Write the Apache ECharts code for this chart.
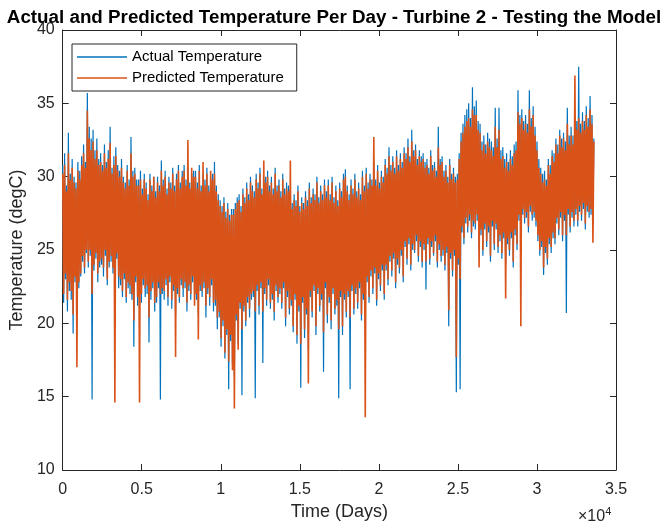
<!DOCTYPE html>
<html>
<head>
<meta charset="utf-8">
<script src="https://cdn.jsdelivr.net/npm/echarts@6/dist/echarts.min.js"></script>
<style>
  html, body { margin: 0; padding: 0; background: #fff; }
  #chart { width: 668px; height: 530px; }
</style>
</head>
<body>
<div id="chart"></div>
<script>
// One reading every 60 days, starting at day 0
const firstDay = 0;
const dayStep = 60;

const actualTemp = [
  30.8, 21.4, 31.6, 23.0, 29.4, 20.8, 33.0, 22.2, 30.2, 21.6, 31.2, 19.3, 30.0, 22.8, 29.6, 21.0, 31.0, 22.4, 30.4, 23.2,
  31.4, 24.2, 32.2, 23.4, 31.0, 24.8, 35.7, 23.8, 33.4, 24.6, 32.6, 14.8, 33.2, 23.6, 31.8, 24.4, 32.6, 22.8, 31.2, 23.8,
  31.6, 24.0, 30.8, 23.2, 32.2, 24.6, 31.0, 22.6, 31.8, 23.8, 33.4, 24.2, 30.6, 23.4, 31.4, 22.8, 32.0, 24.4, 30.8, 22.4,
  30.4, 22.6, 31.2, 21.8, 30.0, 23.0, 29.6, 21.4, 30.8, 22.4, 29.8, 22.0, 32.7, 21.6, 30.4, 18.4, 30.6, 22.8, 29.8, 21.2,
  29.8, 22.2, 30.4, 21.4, 29.2, 22.6, 30.2, 21.8, 29.6, 22.0, 28.8, 18.7, 30.2, 21.6, 29.4, 22.4, 30.0, 20.8, 29.0, 21.4,
  30.0, 22.4, 29.4, 14.8, 31.1, 22.0, 29.8, 21.6, 30.4, 22.6, 29.2, 21.2, 30.0, 22.8, 29.6, 21.0, 30.6, 22.2, 29.4, 20.6,
  30.2, 22.0, 30.8, 21.4, 29.6, 22.6, 30.4, 21.8, 30.8, 22.4, 29.8, 20.8, 30.6, 22.2, 29.6, 21.6, 30.2, 22.8, 30.4, 22.0,
  30.4, 21.6, 29.6, 20.6, 30.8, 22.2, 29.4, 21.8, 30.2, 22.4, 29.8, 20.4, 30.6, 22.0, 29.4, 21.2, 29.8, 22.6, 30.2, 20.8,
  31.0, 21.2, 29.4, 19.6, 28.8, 20.4, 28.4, 18.4, 28.0, 19.8, 28.6, 17.6, 27.6, 19.2, 28.2, 15.5, 27.4, 18.8, 27.8, 17.2,
  27.8, 16.4, 28.2, 20.2, 28.6, 18.6, 28.8, 21.0, 28.0, 15.1, 29.2, 20.8, 28.6, 19.8, 29.6, 21.4, 28.8, 20.4, 30.0, 21.6,
  29.4, 21.8, 29.0, 14.9, 30.2, 22.2, 29.6, 20.6, 30.6, 22.4, 29.2, 17.3, 29.8, 22.0, 30.0, 21.2, 30.4, 22.6, 29.4, 21.0,
  30.0, 21.6, 29.2, 20.2, 30.6, 22.2, 29.4, 21.4, 29.8, 22.0, 29.0, 21.0, 30.2, 22.4, 29.2, 19.8, 29.6, 21.8, 29.4, 20.6,
  29.2, 21.2, 28.2, 19.4, 28.8, 21.6, 28.4, 18.6, 29.4, 20.8, 28.0, 15.6, 28.6, 21.4, 28.2, 19.0, 29.0, 20.6, 28.4, 18.2,
  29.6, 21.8, 28.6, 20.4, 29.2, 22.2, 28.8, 19.2, 30.0, 22.0, 28.6, 20.8, 29.4, 21.6, 28.8, 16.7, 29.8, 22.4, 29.0, 20.0,
  29.8, 21.4, 28.8, 19.6, 30.0, 22.0, 28.6, 20.6, 29.4, 21.2, 28.4, 14.9, 29.6, 21.8, 29.0, 19.2, 30.2, 21.6, 30.5, 20.4,
  29.4, 21.8, 28.8, 15.5, 29.8, 22.2, 29.2, 20.6, 30.2, 22.0, 29.0, 21.0, 29.6, 22.4, 28.8, 20.2, 30.4, 21.6, 29.4, 20.8,
  30.6, 22.8, 29.6, 21.4, 30.2, 23.2, 29.8, 22.0, 31.0, 23.4, 29.8, 21.2, 30.8, 23.0, 29.6, 22.2, 30.4, 23.6, 30.0, 21.6,
  31.2, 23.6, 30.6, 22.6, 32.0, 24.2, 30.8, 23.2, 31.4, 24.4, 30.6, 22.4, 31.8, 24.0, 30.8, 23.4, 31.6, 24.6, 31.0, 22.8,
  32.0, 25.2, 31.6, 24.0, 32.6, 25.4, 31.4, 23.6, 33.2, 25.0, 31.8, 24.8, 32.2, 25.6, 31.2, 24.2, 31.8, 25.2, 31.4, 23.8,
  31.6, 25.0, 31.0, 22.3, 31.2, 25.4, 30.6, 24.0, 31.8, 25.2, 30.8, 24.6, 31.0, 25.6, 30.4, 23.8, 33.4, 25.0, 31.2, 24.2,
  31.4, 24.6, 30.4, 23.6, 30.8, 24.8, 30.0, 19.8, 31.2, 24.4, 30.2, 23.2, 30.6, 24.6, 30.0, 15.3, 30.2, 24.0, 31.6, 15.5,
  33.0, 26.2, 33.6, 25.4, 34.2, 26.8, 34.6, 26.2, 35.0, 27.0, 34.0, 25.8, 36.1, 26.6, 34.8, 26.4, 35.2, 27.0, 33.8, 25.0,
  33.6, 26.0, 32.4, 24.6, 32.8, 26.4, 32.2, 25.2, 33.0, 26.2, 32.6, 24.2, 32.4, 26.6, 32.0, 25.0, 34.7, 26.4, 32.6, 24.8,
  34.7, 25.6, 31.8, 24.4, 32.0, 25.8, 31.2, 24.0, 31.6, 25.4, 31.0, 24.6, 31.8, 25.8, 31.4, 23.8, 32.2, 26.0, 32.4, 25.0,
  35.9, 27.0, 34.2, 26.4, 34.6, 27.4, 33.8, 26.8, 34.2, 27.2, 33.6, 26.2, 35.9, 27.6, 34.0, 27.0, 34.8, 27.2, 33.4, 26.6,
  32.4, 25.6, 31.2, 24.6, 30.6, 25.2, 30.2, 23.3, 30.4, 24.8, 29.8, 24.0, 31.2, 25.4, 30.8, 24.8, 31.8, 25.8, 31.6, 25.4,
  32.6, 26.8, 32.2, 26.0, 33.2, 27.2, 32.6, 25.6, 33.0, 27.0, 32.4, 20.7, 34.7, 27.4, 32.8, 26.2, 33.4, 27.2, 32.8, 26.6,
  34.2, 27.4, 33.8, 26.6, 37.5, 27.6, 33.6, 27.0, 34.4, 27.8, 33.8, 26.4, 34.8, 27.6, 34.0, 27.2, 35.5, 27.4, 34.2, 26.8, 32.6
];

const predictedTemp = [
  30.2, 22.0, 30.8, 23.4, 29.0, 21.6, 31.6, 22.8, 29.8, 22.2, 30.6, 20.6, 29.6, 23.2, 29.2, 17.0, 30.4, 22.8, 29.8, 23.4,
  30.8, 24.6, 31.6, 23.8, 30.6, 25.0, 34.5, 24.2, 32.6, 25.0, 31.8, 22.0, 32.4, 24.0, 31.2, 24.8, 31.8, 23.4, 30.8, 24.2,
  31.0, 24.4, 30.4, 23.8, 31.6, 25.0, 30.6, 23.0, 31.2, 24.2, 32.3, 24.6, 30.2, 23.8, 30.8, 14.6, 31.4, 24.8, 30.4, 23.2,
  30.0, 23.0, 30.6, 22.2, 29.6, 23.4, 29.2, 21.8, 30.4, 22.8, 29.4, 22.6, 31.6, 22.0, 30.0, 20.2, 30.2, 23.2, 29.4, 21.8,
  29.4, 14.6, 29.8, 22.0, 28.8, 23.0, 29.8, 22.4, 29.2, 22.6, 28.4, 20.4, 29.8, 22.2, 29.0, 22.8, 30.0, 21.4, 28.6, 21.8,
  29.6, 22.8, 29.0, 22.0, 30.4, 22.4, 29.4, 22.2, 30.0, 23.0, 28.8, 21.8, 29.6, 23.2, 29.2, 21.6, 30.2, 22.6, 29.0, 17.7,
  29.8, 22.4, 30.4, 21.8, 29.2, 23.0, 30.0, 22.4, 30.4, 22.8, 29.4, 21.4, 32.5, 22.6, 29.2, 22.0, 30.6, 23.2, 30.0, 21.2,
  30.0, 22.0, 29.2, 18.9, 30.4, 22.6, 29.0, 22.2, 31.0, 22.8, 29.4, 21.2, 30.2, 22.4, 29.0, 21.8, 30.4, 23.0, 29.8, 21.4,
  30.2, 21.6, 29.0, 20.4, 28.4, 20.8, 28.0, 19.0, 27.6, 20.2, 28.2, 18.0, 27.2, 19.6, 27.8, 17.4, 27.0, 19.2, 27.4, 16.8,
  27.4, 14.2, 27.8, 20.6, 28.2, 18.2, 28.4, 21.4, 27.6, 19.6, 28.8, 21.2, 28.2, 20.2, 29.2, 21.8, 28.4, 21.0, 29.6, 22.0,
  29.0, 22.2, 28.6, 20.8, 29.8, 22.6, 29.2, 21.2, 30.2, 22.8, 28.8, 20.8, 31.1, 22.4, 29.6, 21.6, 30.0, 23.0, 29.0, 21.4,
  29.6, 22.0, 28.8, 20.8, 30.2, 22.6, 29.0, 21.8, 29.4, 22.4, 28.6, 21.4, 29.8, 22.8, 28.8, 20.4, 29.2, 22.2, 29.0, 21.0,
  31.1, 21.6, 27.8, 19.8, 28.4, 22.0, 28.0, 19.2, 29.0, 21.2, 27.6, 18.6, 28.2, 21.8, 27.8, 19.6, 28.6, 21.0, 28.0, 15.9,
  29.2, 22.2, 28.2, 20.8, 28.8, 22.6, 28.4, 19.8, 29.6, 22.4, 28.2, 21.2, 29.0, 22.0, 28.4, 19.4, 29.4, 22.8, 28.6, 20.6,
  29.4, 21.8, 28.4, 20.2, 29.6, 22.4, 28.2, 21.0, 29.0, 21.6, 28.0, 19.6, 29.2, 22.2, 28.6, 19.8, 29.8, 22.0, 30.0, 20.8,
  29.0, 22.2, 28.4, 20.4, 29.4, 22.6, 28.8, 21.0, 29.8, 22.4, 28.6, 21.4, 29.2, 22.8, 28.4, 20.6, 30.0, 22.0, 29.0, 13.6,
  30.2, 23.2, 29.2, 21.8, 29.8, 23.6, 29.4, 22.4, 32.7, 23.8, 29.4, 21.6, 30.4, 23.4, 29.2, 22.6, 30.0, 24.0, 29.6, 22.0,
  30.8, 24.0, 30.2, 23.0, 31.4, 24.6, 30.4, 23.6, 31.0, 24.8, 30.2, 22.8, 31.4, 24.4, 30.4, 23.8, 31.2, 25.0, 30.6, 23.2,
  31.6, 25.6, 31.2, 24.4, 32.0, 25.8, 31.0, 24.0, 32.4, 25.4, 31.4, 25.0, 31.8, 26.0, 30.8, 24.6, 31.4, 25.6, 31.0, 24.2,
  31.2, 25.4, 30.6, 24.2, 30.8, 25.8, 30.2, 24.4, 31.4, 25.6, 30.4, 24.8, 30.6, 26.0, 30.0, 24.2, 32.0, 25.4, 30.8, 24.6,
  31.0, 25.0, 30.0, 24.0, 30.4, 25.2, 29.6, 20.9, 30.8, 24.8, 29.8, 23.6, 30.2, 25.0, 29.6, 17.7, 29.8, 24.4, 31.2, 23.0,
  32.4, 26.6, 33.0, 25.8, 33.4, 27.2, 33.8, 26.6, 34.0, 27.4, 33.4, 26.2, 34.6, 27.0, 34.2, 26.8, 34.2, 27.4, 33.2, 23.8,
  33.0, 26.4, 31.8, 25.0, 32.2, 26.8, 31.6, 25.6, 32.4, 26.6, 32.0, 24.6, 31.8, 27.0, 31.4, 25.4, 33.4, 26.8, 32.0, 25.2,
  33.2, 26.0, 31.2, 24.8, 31.4, 26.2, 30.6, 21.7, 31.0, 25.8, 30.4, 25.0, 31.2, 26.2, 30.8, 24.2, 31.6, 26.4, 31.8, 25.4,
  34.4, 27.4, 33.6, 19.8, 34.0, 27.8, 33.2, 27.2, 33.6, 27.6, 33.0, 26.6, 34.6, 28.0, 33.4, 27.4, 34.2, 27.6, 32.8, 27.0,
  31.8, 26.0, 30.6, 25.0, 30.2, 25.6, 29.6, 23.8, 29.8, 25.2, 29.4, 24.4, 30.8, 25.8, 30.2, 25.2, 31.4, 26.2, 31.0, 25.8,
  32.2, 27.2, 31.6, 26.4, 32.8, 27.6, 32.0, 26.0, 32.6, 27.4, 31.8, 26.0, 33.6, 27.8, 32.2, 26.6, 32.8, 27.6, 32.2, 27.0,
  36.9, 27.8, 33.2, 27.0, 34.0, 28.0, 33.0, 27.4, 33.8, 28.2, 33.2, 26.8, 34.2, 28.0, 33.4, 27.6, 34.6, 27.8, 33.6, 25.5, 32.4
];

const xTicks = [0, 5000, 10000, 15000, 20000, 25000, 30000, 35000];
const yTicks = [10, 15, 20, 25, 30, 35, 40];

const seriesNames = ['Actual Temperature', 'Predicted Temperature'];
const seriesColors = ['#0072BD', '#D95319'];

const toPairs = vals => vals.map((v, i) => [firstDay + i * dayStep, v]);

const axisColor = '#262626';
const fontFamily = '"Liberation Sans", Arial, Helvetica, sans-serif';

const xRange = { min: xTicks[0], max: xTicks[xTicks.length - 1], interval: xTicks[1] - xTicks[0] };
const yRange = { min: yTicks[0], max: yTicks[yTicks.length - 1], interval: yTicks[1] - yTicks[0] };

const baseAxis = {
  axisLine: { show: true, onZero: false, lineStyle: { color: axisColor, width: 1 } },
  axisTick: { show: true, inside: true, length: 6, lineStyle: { color: axisColor } },
  splitLine: { show: false }
};

const chart = echarts.init(document.getElementById('chart'), null, { renderer: 'canvas' });

chart.setOption({
  animation: false,
  backgroundColor: '#ffffff',
  title: {
    text: 'Actual and Predicted Temperature Per Day - Turbine 2 - Testing the Model',
    left: 'center',
    top: 3,
    textStyle: { fontFamily, fontSize: 18.8, fontWeight: 'bold', color: '#000' }
  },
  grid: { left: 59, right: 52, top: 30, bottom: 60, containLabel: false },
  legend: {
    data: seriesNames.map(n => ({ name: n, icon: 'rect' })),
    orient: 'vertical',
    left: 72,
    top: 44,
    padding: [5, 13, 5, 5],
    itemWidth: 50,
    itemHeight: 1.5,
    itemGap: 5,
    backgroundColor: '#fff',
    borderColor: axisColor,
    borderWidth: 1,
    textStyle: { fontFamily, fontSize: 15, color: '#000', lineHeight: 16 }
  },
  xAxis: [
    Object.assign({}, baseAxis, xRange, {
      type: 'value',
      position: 'bottom',
      name: 'Time (Days)',
      nameLocation: 'middle',
      nameGap: 33,
      nameTextStyle: { fontFamily, fontSize: 18, color: axisColor },
      axisLabel: {
        fontFamily, fontSize: 16, color: axisColor, margin: 12,
        formatter: v => String(v / 10000)
      }
    }),
    Object.assign({}, baseAxis, xRange, {
      type: 'value',
      position: 'top',
      axisLabel: { show: false }
    })
  ],
  yAxis: [
    Object.assign({}, baseAxis, yRange, {
      type: 'value',
      position: 'left',
      name: 'Temperature (degC)',
      nameLocation: 'middle',
      nameGap: 32,
      nameTextStyle: { fontFamily, fontSize: 18, color: axisColor },
      axisLabel: { fontFamily, fontSize: 16, color: axisColor, margin: 8 }
    }),
    Object.assign({}, baseAxis, yRange, {
      type: 'value',
      position: 'right',
      axisLabel: { show: false }
    })
  ],
  graphic: [{
    type: 'text',
    left: 578,
    top: 506,
    style: {
      text: '{b|×10}{s|4}',
      rich: {
        b: { fontFamily, fontSize: 16, fill: axisColor, verticalAlign: 'bottom' },
        s: { fontFamily, fontSize: 11, fill: axisColor, verticalAlign: 'bottom', padding: [0, 0, 8, 0] }
      }
    }
  }],
  series: [
    {
      name: seriesNames[0],
      type: 'line',
      data: toPairs(actualTemp),
      showSymbol: false,
      symbol: 'none',
      color: seriesColors[0],
      lineStyle: { width: 1.2, color: seriesColors[0] },
      z: 2
    },
    {
      name: seriesNames[1],
      type: 'line',
      data: toPairs(predictedTemp),
      showSymbol: false,
      symbol: 'none',
      color: seriesColors[1],
      lineStyle: { width: 1.6, color: seriesColors[1] },
      z: 3
    }
  ]
});
</script>
</body>
</html>
